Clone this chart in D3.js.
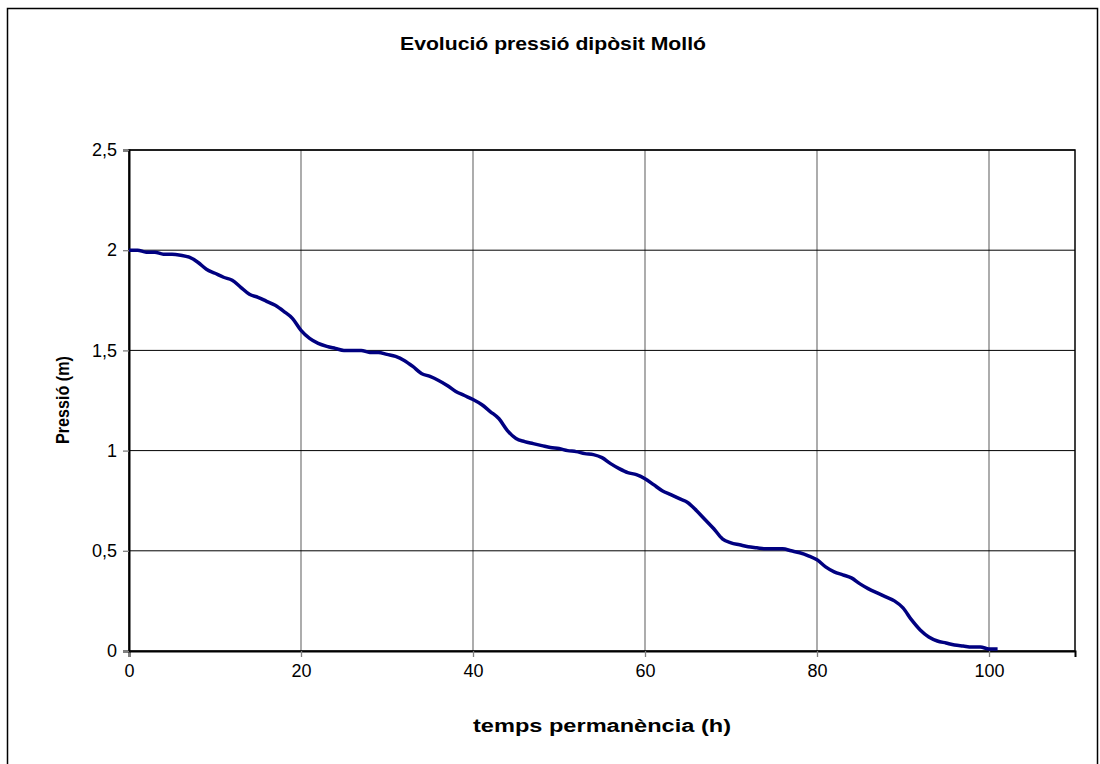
<!DOCTYPE html>
<html>
<head>
<meta charset="utf-8">
<script src="https://cdn.jsdelivr.net/npm/d3@7"></script>
<style>
  body { margin: 0; background: #fff; }
  svg { display: block; font-family: "Liberation Sans", Arial, sans-serif; }
</style>
</head>
<body>
<svg id="chart" width="1100" height="764"></svg>
<script>
// hours since start
const hours = d3.range(0, 102);
// pressure in the tank (m)
const pressure = [
  2.00, 2.00, 1.99, 1.99, 1.98, 1.98, 1.975, 1.965, 1.94, 1.905,
  1.885, 1.865, 1.85, 1.815, 1.78, 1.765, 1.745, 1.725, 1.695, 1.66,
  1.60, 1.56, 1.535, 1.52, 1.51, 1.50, 1.50, 1.50, 1.49, 1.49,
  1.48, 1.47, 1.45, 1.42, 1.385, 1.37, 1.35, 1.325, 1.295, 1.275,
  1.255, 1.23, 1.195, 1.16, 1.10, 1.06, 1.045, 1.035, 1.025, 1.015,
  1.01, 1.00, 0.995, 0.985, 0.98, 0.965, 0.935, 0.91, 0.89, 0.88,
  0.86, 0.83, 0.80, 0.78, 0.76, 0.74, 0.70, 0.655, 0.61, 0.56,
  0.54, 0.53, 0.52, 0.515, 0.51, 0.51, 0.51, 0.50, 0.49, 0.475,
  0.455, 0.42, 0.395, 0.38, 0.365, 0.335, 0.31, 0.29, 0.27, 0.25,
  0.215, 0.155, 0.105, 0.07, 0.05, 0.04, 0.03, 0.025, 0.02, 0.02,
  0.01, 0.01
];
const xTicks = [0, 20, 40, 60, 80, 100];
const yTicks = [0, 0.5, 1, 1.5, 2, 2.5];

const svg = d3.select("#chart");
const m = { left: 129, top: 150, right: 1075, bottom: 651 };

const x = d3.scaleLinear().domain([0, 110]).range([m.left, m.right]);
const y = d3.scaleLinear().domain([0, 2.5]).range([m.bottom, m.top]);
const fmt = d => String(d).replace(".", ",");

// outer chart frame
svg.append("rect")
  .attr("x", 7.5).attr("y", 8.5)
  .attr("width", 1090).attr("height", 780)
  .attr("fill", "none").attr("stroke", "#000").attr("stroke-width", 1.5);

// gridlines
svg.append("g").selectAll("line").data(xTicks.filter(d => d > 0))
  .join("line")
  .attr("x1", d => x(d)).attr("x2", d => x(d))
  .attr("y1", m.top).attr("y2", m.bottom)
  .attr("stroke", "#808080").attr("stroke-width", 1.3);

svg.append("g").selectAll("line").data(yTicks.filter(d => d > 0))
  .join("line")
  .attr("x1", m.left).attr("x2", m.right)
  .attr("y1", d => y(d)).attr("y2", d => y(d))
  .attr("stroke", "#000").attr("stroke-width", 1);

// plot frame
svg.append("rect")
  .attr("x", m.left).attr("y", m.top)
  .attr("width", m.right - m.left).attr("height", m.bottom - m.top)
  .attr("fill", "none").attr("stroke", "#000").attr("stroke-width", 1.5);

// axes
const xAxis = svg.append("g")
  .attr("transform", `translate(0,${m.bottom})`)
  .call(d3.axisBottom(x).tickValues(xTicks).tickSize(6).tickPadding(7).tickFormat(fmt));
const yAxis = svg.append("g")
  .attr("transform", `translate(${m.left},0)`)
  .call(d3.axisLeft(y).tickValues(yTicks).tickSize(6).tickPadding(6).tickFormat(fmt));

[xAxis, yAxis].forEach(a => {
  a.select(".domain").attr("stroke", "#000").attr("stroke-width", 2);
  a.selectAll(".tick line").attr("stroke", "#808080").attr("stroke-width", 1.3);
  a.selectAll(".tick text")
    .attr("fill", "#000")
    .style("font-size", "18px")
    .style("font-family", "'Liberation Sans', Arial, sans-serif");
});

// the series
const line = d3.line()
  .x((d, i) => x(hours[i]))
  .y(d => y(d))
  .curve(d3.curveMonotoneX);

svg.append("path")
  .datum(pressure)
  .attr("d", line)
  .attr("fill", "none")
  .attr("stroke", "#000080")
  .attr("stroke-width", 3.5)
  .attr("stroke-linejoin", "round");

// titles
svg.append("text")
  .attr("x", 553).attr("y", 50)
  .attr("text-anchor", "middle")
  .attr("textLength", 306).attr("lengthAdjust", "spacingAndGlyphs")
  .style("font-size", "18px").style("font-weight", "bold")
  .text("Evolució pressió dipòsit Molló");

svg.append("text")
  .attr("x", 602).attr("y", 732)
  .attr("text-anchor", "middle")
  .attr("textLength", 258).attr("lengthAdjust", "spacingAndGlyphs")
  .style("font-size", "18px").style("font-weight", "bold")
  .text("temps permanència (h)");

svg.append("text")
  .attr("transform", "translate(69,400) rotate(-90)")
  .attr("text-anchor", "middle")
  .attr("textLength", 88).attr("lengthAdjust", "spacingAndGlyphs")
  .style("font-size", "18px").style("font-weight", "bold")
  .text("Pressió (m)");
</script>
</body>
</html>
